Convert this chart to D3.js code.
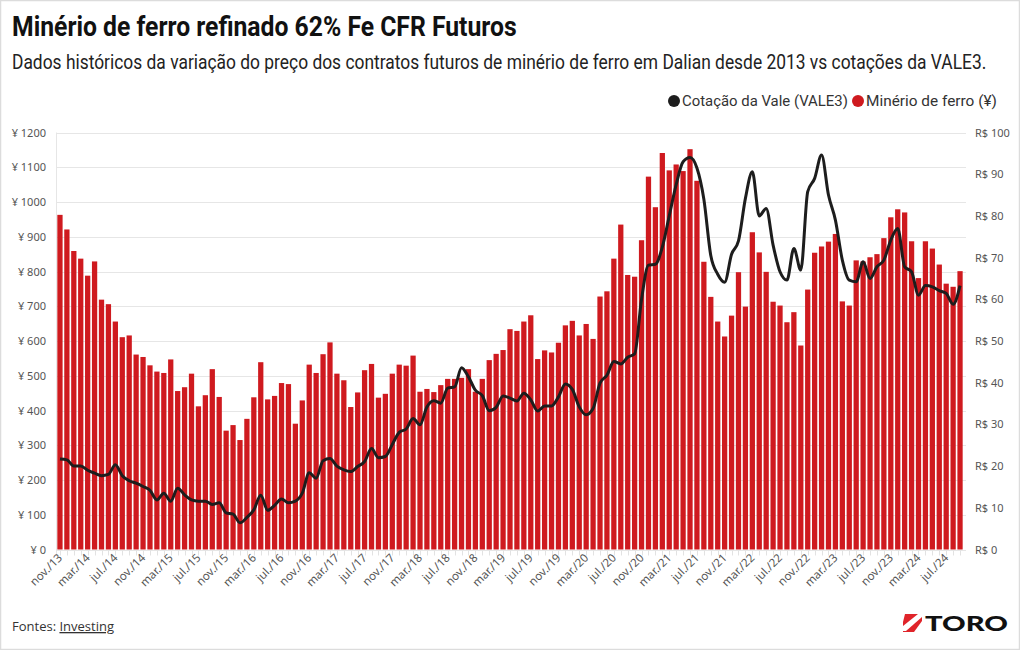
<!DOCTYPE html>
<html><head><meta charset="utf-8">
<script src="https://cdn.jsdelivr.net/npm/d3@7"></script>
<style>body{margin:0;background:#fff}svg{display:block}</style>
</head><body><svg id="c" width="1020" height="650"></svg>
<script>
const categories = [
"nov./13","dez./13",
"jan./14","fev./14","mar./14","abr./14","mai./14","jun./14","jul./14","ago./14","set./14","out./14","nov./14","dez./14",
"jan./15","fev./15","mar./15","abr./15","mai./15","jun./15","jul./15","ago./15","set./15","out./15","nov./15","dez./15",
"jan./16","fev./16","mar./16","abr./16","mai./16","jun./16","jul./16","ago./16","set./16","out./16","nov./16","dez./16",
"jan./17","fev./17","mar./17","abr./17","mai./17","jun./17","jul./17","ago./17","set./17","out./17","nov./17","dez./17",
"jan./18","fev./18","mar./18","abr./18","mai./18","jun./18","jul./18","ago./18","set./18","out./18","nov./18","dez./18",
"jan./19","fev./19","mar./19","abr./19","mai./19","jun./19","jul./19","ago./19","set./19","out./19","nov./19","dez./19",
"jan./20","fev./20","mar./20","abr./20","mai./20","jun./20","jul./20","ago./20","set./20","out./20","nov./20","dez./20",
"jan./21","fev./21","mar./21","abr./21","mai./21","jun./21","jul./21","ago./21","set./21","out./21","nov./21","dez./21",
"jan./22","fev./22","mar./22","abr./22","mai./22","jun./22","jul./22","ago./22","set./22","out./22","nov./22","dez./22",
"jan./23","fev./23","mar./23","abr./23","mai./23","jun./23","jul./23","ago./23","set./23","out./23","nov./23","dez./23",
"jan./24","fev./24","mar./24","abr./24","mai./24","jun./24","jul./24","ago./24","set./24"];

const ironOre = [
963,921,859,837,788,829,719,706,656,611,616,561,554,530,512,508,547,456,467,506,
412,444,519,439,342,358,315,376,438,539,432,442,479,476,362,429,532,508,562,596,
506,487,410,452,516,534,437,448,506,532,529,558,454,462,453,473,491,491,494,519,
454,491,545,563,574,634,629,656,674,548,573,567,595,645,658,616,649,606,728,743,
837,935,790,785,890,1073,985,1141,1091,1108,1089,1152,1061,828,727,656,613,673,798,699,
913,855,799,713,702,654,683,587,748,854,872,886,908,714,702,832,829,841,850,896,
956,979,970,887,781,887,866,820,765,756,801];

const vale3 = [
21.7,21.5,20.0,20.0,19.0,18.3,17.7,18.0,20.3,17.7,16.5,15.9,15.1,14.2,11.9,13.5,11.6,14.7,13.1,11.9,
11.6,11.6,10.8,11.2,8.8,8.5,6.4,7.7,9.5,13.0,9.4,10.6,12.1,11.2,11.6,13.5,18.4,17.1,21.3,21.8,
20.0,19.1,18.7,19.9,21.1,24.2,22.0,22.3,25.2,28.1,28.9,31.4,29.9,34.2,35.7,35.1,38.7,39.0,43.6,41.4,
38.2,36.9,33.3,34.1,36.8,36.3,35.6,37.5,35.9,33.2,34.4,34.4,36.6,39.7,38.4,34.2,32.3,33.8,39.9,41.8,
45.1,44.5,46.1,46.9,60.0,68.2,68.4,72.5,80.0,87.5,93.0,94.0,91.5,84.0,70.5,66.0,64.1,70.8,74.0,84.2,
90.6,80.0,81.8,73.0,66.6,64.6,72.2,67.0,85.8,89.0,94.6,85.0,79.0,69.4,64.6,64.2,69.0,65.0,67.8,69.4,
74.2,77.0,67.8,66.6,61.0,63.3,63.0,62.1,61.4,58.8,63.3];

const xTickLabels = ["nov./13","mar./14","jul./14","nov./14","mar./15","jul./15","nov./15","mar./16","jul./16","nov./16",
"mar./17","jul./17","nov./17","mar./18","jul./18","nov./18","mar./19","jul./19","nov./19","mar./20","jul./20","nov./20",
"mar./21","jul./21","nov./21","mar./22","jul./22","nov./22","mar./23","jul./23","nov./23","mar./24","jul./24"];
const leftTicks = [0,100,200,300,400,500,600,700,800,900,1000,1100,1200];
const rightTicks = [0,10,20,30,40,50,60,70,80,90,100];

const svg = d3.select("#c");
const X0 = 56.5, X1 = 963.5, Y0 = 549.5, Y1 = 132.5;

svg.append("rect").attr("x",0.5).attr("y",0.5).attr("width",1019).attr("height",649)
  .attr("fill","#fff").attr("stroke","#dcdcdc").attr("stroke-width",1.5);

const x = d3.scaleBand().domain(categories).range([X0,X1]).paddingInner(0.24).paddingOuter(0.12);
const yL = d3.scaleLinear().domain([0,1200]).range([Y0,Y1]);
const yR = d3.scaleLinear().domain([0,100]).range([Y0,Y1]);

// fit text horizontally to a target width using a scale transform
function fitText(sel, x0, y0, width){
  const w = sel.node().getComputedTextLength();
  const s = width / w;
  sel.attr("x",0).attr("y",0).attr("transform",`translate(${x0},${y0}) scale(${s},1)`);
  return sel;
}

// gridlines
svg.append("g").selectAll("line").data(leftTicks).join("line")
  .attr("x1",X0).attr("x2",966).attr("y1",d=>Math.round(yL(d))+0.5).attr("y2",d=>Math.round(yL(d))+0.5)
  .attr("stroke","#e6e6e6").attr("stroke-width",1);
svg.append("line").attr("x1",X0).attr("x2",X0).attr("y1",Y1).attr("y2",Y0+6).attr("stroke","#e6e6e6");

// left axis labels
svg.append("g").selectAll("text").data(leftTicks).join("text")
  .attr("x",46).attr("y",d=>yL(d)+4).attr("text-anchor","end")
  .attr("font-family","Noto Sans, Open Sans, sans-serif").attr("font-size",11).attr("fill","#555")
  .text(d=>"¥ "+d);
// right axis labels
svg.append("g").selectAll("text").data(rightTicks).join("text")
  .attr("x",975).attr("y",d=>yR(d)+4).attr("text-anchor","start")
  .attr("font-family","Noto Sans, Open Sans, sans-serif").attr("font-size",11).attr("fill","#555")
  .text(d=>"R$ "+d);

// bottom small ticks
svg.append("g").selectAll("line").data(categories).join("line")
  .attr("x1",d=>Math.round(x(d)+x.bandwidth()/2)+0.5).attr("x2",d=>Math.round(x(d)+x.bandwidth()/2)+0.5)
  .attr("y1",Y0+1).attr("y2",Y0+6).attr("stroke","#e2e2e2");

// bars
svg.append("g").selectAll("rect").data(ironOre).join("rect")
  .attr("x",(d,i)=>x(categories[i])).attr("width",x.bandwidth())
  .attr("y",d=>yL(d)).attr("height",d=>Y0-yL(d)).attr("fill","#cf1a1f");

// line
const line = d3.line().x((d,i)=>x(categories[i])+x.bandwidth()/2).y(d=>yR(d)).curve(d3.curveMonotoneX);
svg.append("path").datum(vale3).attr("d",line).attr("fill","none")
  .attr("stroke","#1d1d1d").attr("stroke-width",3).attr("stroke-linejoin","round");

// x labels
svg.append("g").selectAll("text").data(xTickLabels).join("text")
  .attr("transform",d=>{const cx=x(d)+x.bandwidth()/2+3; return `translate(${cx},${Y0+9}) rotate(-45)`;})
  .attr("text-anchor","end")
  .attr("font-family","Noto Sans, Open Sans, sans-serif").attr("font-size",11.5).attr("fill","#555")
  .text(d=>d);

// title & subtitle
fitText(svg.append("text").attr("font-family","Roboto, sans-serif").attr("font-weight",700)
  .attr("font-size",27).attr("fill","#111")
  .text("Minério de ferro refinado 62% Fe CFR Futuros"), 12, 36, 505);
fitText(svg.append("text").attr("font-family","Roboto, sans-serif").attr("font-weight",400)
  .attr("font-size",19.5).attr("fill","#222")
  .text("Dados históricos da variação do preço dos contratos futuros de minério de ferro em Dalian desde 2013 vs cotações da VALE3."), 12, 69, 975);

// legend
const lg = svg.append("g");
lg.append("circle").attr("cx",674).attr("cy",101).attr("r",6).attr("fill","#1d1d1d");
fitText(lg.append("text").attr("font-family","Roboto, sans-serif").attr("font-size",15)
  .attr("fill","#333").text("Cotação da Vale (VALE3)"), 682, 106, 166);
lg.append("circle").attr("cx",858).attr("cy",101).attr("r",6).attr("fill","#cf1a1f");
fitText(lg.append("text").attr("font-family","Roboto, sans-serif").attr("font-size",15)
  .attr("fill","#333").text("Minério de ferro (¥)"), 866, 106, 131);

// footer
const ft = svg.append("text").attr("x",12).attr("y",631).attr("font-family","Open Sans, sans-serif")
  .attr("font-size",13).attr("fill","#333");
ft.append("tspan").text("Fontes: ");
ft.append("tspan").attr("text-decoration","underline").text("Investing");

// logo
const logo = svg.append("g");
logo.append("path").attr("d","M905,614 L922,614 L922,621 L914,632 L903,632 L903,622 Z").attr("fill","#e0242a");
logo.append("path").attr("d","M903,626 L918,614 L922,614 L922,617 L906,631 L903,631 Z").attr("fill","#fff");
fitText(logo.append("text").attr("font-family","Lato, sans-serif").attr("font-weight",900)
  .attr("font-size",21).attr("fill","#111").text("TORO"), 925, 631, 83);
</script></body></html>
